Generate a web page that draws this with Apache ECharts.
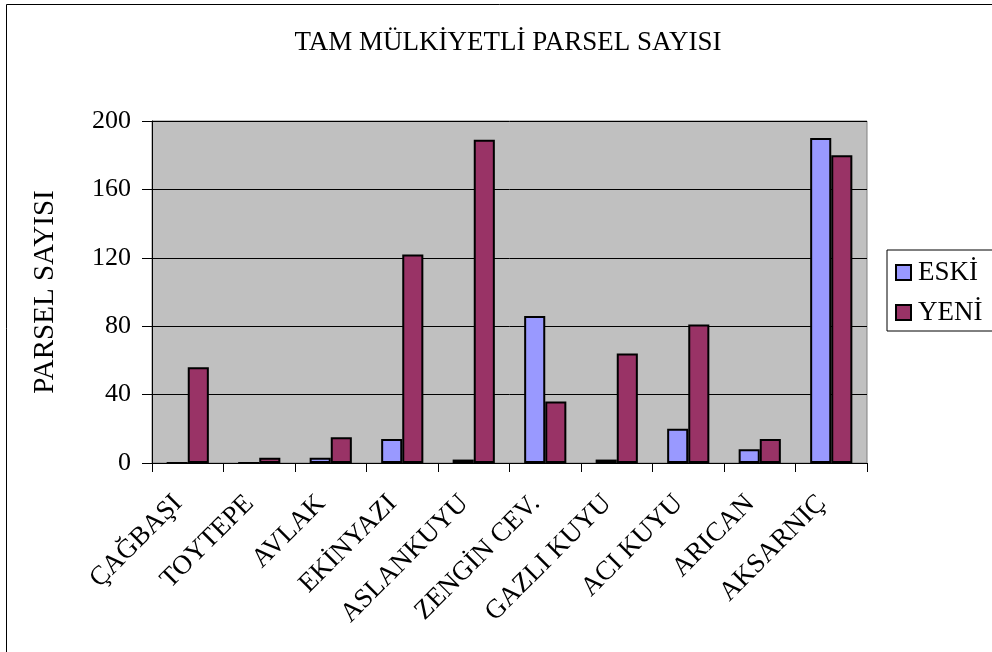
<!DOCTYPE html>
<html><head><meta charset="utf-8">
<script src="https://cdn.jsdelivr.net/npm/echarts@6/dist/echarts.min.js"></script>
<style>html,body{margin:0;padding:0;background:#fff}#c{width:992px;height:652px}</style>
</head><body><div id="c"></div>
<script>
const categories = ['ÇAĞBAŞI','TOYTEPE','AVLAK','EKİNYAZI','ASLANKUYU','ZENGİN CEV.','GAZLI KUYU','ACI KUYU','ARICAN','AKSARNIÇ'];
const eski = [0, 0, 3, 14, 2, 86, 2, 20, 8, 190];
const yeni = [56, 3, 15, 122, 189, 36, 64, 81, 14, 180];
const yTicks = [0, 40, 80, 120, 160, 200];

const font = 'Liberation Serif, Times New Roman, serif';
const chart = echarts.init(document.getElementById('c'));
chart.setOption({
  animation: false,
  backgroundColor: '#fff',
  title: {
    text: 'TAM MÜLKİYETLİ PARSEL SAYISI',
    left: 503, top: 24, textAlign: 'center',
    textStyle: {fontFamily: font, fontSize: 27, fontWeight: 'normal', color: '#000'}
  },
  graphic: [{
    type: 'rect', shape: {x: 6.5, y: 4.5, width: 1000, height: 700},
    style: {fill: 'none', stroke: '#000', lineWidth: 1}, silent: true, z: -1
  }],
  legend: {
    orient: 'vertical', left: 887, top: 250,
    padding: [9, 40, 5, 8], itemGap: 13,
    borderColor: '#000', borderWidth: 1,
    itemWidth: 15, itemHeight: 15, icon: 'rect',
    textStyle: {fontFamily: font, fontSize: 27, lineHeight: 27, color: '#000', padding: [0, 0, 0, 2]},
    data: ['ESKİ', 'YENİ']
  },
  grid: {left: 152, top: 121, width: 715, height: 342, backgroundColor: '#C0C0C0', show: true, borderColor: '#808080', borderWidth: 1},
  xAxis: {
    type: 'category', data: categories,
    axisLine: {lineStyle: {color: '#000'}},
    axisTick: {show: true, length: 9, lineStyle: {color: '#000'}},
    axisLabel: {rotate: 45, interval: 0, fontFamily: font, fontSize: 27, color: '#000', margin: 46, verticalAlign: 'bottom'}
  },
  yAxis: {
    type: 'value', min: yTicks[0], max: yTicks[yTicks.length - 1], interval: 40,
    name: 'PARSEL SAYISI', nameLocation: 'middle', nameGap: 92, nameRotate: 90,
    nameTextStyle: {fontFamily: font, fontSize: 29, color: '#000'},
    axisLine: {show: true, lineStyle: {color: '#000'}},
    axisTick: {show: true, length: 10, inside: false, lineStyle: {color: '#000'}},
    axisLabel: {fontFamily: font, fontSize: 26, color: '#000', margin: 21},
    splitLine: {show: true, lineStyle: {color: '#000', width: 1}}
  },
  series: [
    {name: 'ESKİ', type: 'bar', data: eski, barGap: '0%', barCategoryGap: '41%',
     itemStyle: {color: '#9999FF', borderColor: '#000', borderWidth: 2}},
    {name: 'YENİ', type: 'bar', data: yeni,
     itemStyle: {color: '#993366', borderColor: '#000', borderWidth: 2}}
  ]
});
</script></body></html>
